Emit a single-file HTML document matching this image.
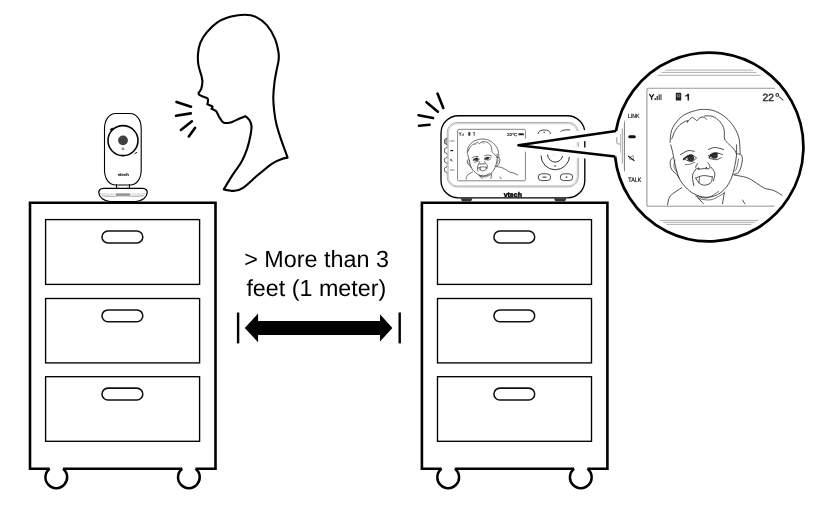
<!DOCTYPE html>
<html><head><meta charset="utf-8"><style>
html,body{margin:0;padding:0;background:#fff;width:816px;height:510px;overflow:hidden}
svg{display:block} text{text-rendering:geometricPrecision}
</style></head><body>
<svg width="816" height="510" viewBox="0 0 816 510" style="will-change:transform">
<path d="M49.62,468.80 H30.00 V202.80 H215.50 V468.80 H195.58 M182.22,468.80 H62.98" fill="none" stroke="#000" stroke-width="2.6" stroke-linejoin="miter" stroke-linecap="butt"/><path d="M195.58,468.80 A10.85,10.85 0 1 1 182.22,468.80 M62.98,468.80 A10.85,10.85 0 1 1 49.62,468.80" fill="none" stroke="#000" stroke-width="2.5" stroke-linecap="butt"/><rect x="45.60" y="219.60" width="154.00" height="64.80" fill="none" stroke="#000" stroke-width="1.35"/><rect x="102.00" y="231.00" width="40.8" height="11.9" rx="5.95" ry="5.95" fill="none" stroke="#111" stroke-width="1.55"/><rect x="45.60" y="298.50" width="154.00" height="64.40" fill="none" stroke="#000" stroke-width="1.35"/><rect x="102.00" y="309.90" width="40.8" height="11.9" rx="5.95" ry="5.95" fill="none" stroke="#111" stroke-width="1.55"/><rect x="45.60" y="376.70" width="154.00" height="64.60" fill="none" stroke="#000" stroke-width="1.35"/><rect x="102.00" y="388.10" width="40.8" height="11.9" rx="5.95" ry="5.95" fill="none" stroke="#111" stroke-width="1.55"/><path d="M441.52,468.80 H421.90 V202.80 H607.40 V468.80 H587.48 M574.12,468.80 H454.88" fill="none" stroke="#000" stroke-width="2.6" stroke-linejoin="miter" stroke-linecap="butt"/><path d="M587.48,468.80 A10.85,10.85 0 1 1 574.12,468.80 M454.88,468.80 A10.85,10.85 0 1 1 441.52,468.80" fill="none" stroke="#000" stroke-width="2.5" stroke-linecap="butt"/><rect x="437.50" y="219.60" width="154.00" height="64.80" fill="none" stroke="#000" stroke-width="1.35"/><rect x="493.90" y="231.00" width="40.8" height="11.9" rx="5.95" ry="5.95" fill="none" stroke="#111" stroke-width="1.55"/><rect x="437.50" y="298.50" width="154.00" height="64.40" fill="none" stroke="#000" stroke-width="1.35"/><rect x="493.90" y="309.90" width="40.8" height="11.9" rx="5.95" ry="5.95" fill="none" stroke="#111" stroke-width="1.55"/><rect x="437.50" y="376.70" width="154.00" height="64.60" fill="none" stroke="#000" stroke-width="1.35"/><rect x="493.90" y="388.10" width="40.8" height="11.9" rx="5.95" ry="5.95" fill="none" stroke="#111" stroke-width="1.55"/><text x="316.6" y="267.1" text-anchor="middle" font-family="Liberation Sans, sans-serif" font-size="23.35" fill="#000">&gt; More than 3</text><text x="316.3" y="295.7" text-anchor="middle" font-family="Liberation Sans, sans-serif" font-size="23.3" fill="#000">feet (1 meter)</text><polygon points="244.8,328 258.1,313.6 258.1,320.9 380,320.9 380,314.2 392.4,328 380,341.6 380,335 258.1,335 258.1,342.3" fill="#000"/><rect x="236.9" y="312.5" width="2.4" height="30.9" fill="#000"/><rect x="398.5" y="312.5" width="2.4" height="30.9" fill="#000"/><path d="M223.8,189.4 C223.8,189.4 228.2,181.8 231.2,177.1 C234.2,172.4 239.2,165.9 241.8,161.2 C244.5,156.5 245.6,153.2 247.1,148.8 C248.6,144.4 249.9,138.5 250.6,134.7 C251.3,130.9 251.7,128.3 251.5,125.9 C251.3,123.5 250.4,121.6 249.4,120.0 C248.4,118.4 245.3,116.2 245.3,116.2 C245.3,116.2 241.2,117.8 239.0,118.8 C236.8,119.8 234.1,121.2 232.2,121.9 C230.3,122.6 229.0,122.9 227.5,123.0 C226.0,123.1 224.5,123.1 223.2,122.3 C221.9,121.5 220.8,119.7 219.7,117.9 C218.6,116.1 217.4,113.0 216.5,111.7 C215.6,110.4 215.2,110.7 214.4,110.2 C213.6,109.7 211.5,108.8 211.5,108.8 C211.5,108.8 212.8,107.3 212.5,106.7 C212.2,106.1 210.4,105.6 209.6,105.2 C208.8,104.8 207.4,104.3 207.4,104.3 C207.4,104.3 208.3,100.3 207.9,99.1 C207.5,97.9 206.2,97.8 204.8,97.2 C203.4,96.6 200.8,95.9 199.7,95.2 C198.6,94.5 198.5,93.2 198.5,93.2 C198.5,93.2 200.5,90.8 201.2,88.9 C201.8,87.0 202.3,84.2 202.4,82.0 C202.5,79.8 201.9,78.0 201.5,76.0 C201.1,74.0 200.2,72.1 199.7,70.0 C199.1,67.9 198.5,66.2 198.2,63.5 C197.9,60.8 197.7,57.3 198.0,53.9 C198.3,50.5 198.9,46.4 200.3,42.9 C201.7,39.4 203.7,36.0 206.5,32.6 C209.3,29.2 213.3,25.0 217.4,22.3 C221.5,19.6 226.6,17.9 231.2,16.6 C235.8,15.4 240.8,14.8 244.9,14.8 C249.0,14.8 252.2,15.2 255.8,16.9 C259.4,18.6 263.6,21.5 266.8,25.1 C270.0,28.8 273.1,34.2 275.0,38.8 C276.9,43.4 277.9,48.8 278.5,52.5 C279.1,56.2 278.8,58.3 278.5,61.0 C278.2,63.7 277.5,65.4 276.9,68.8 C276.2,72.2 275.2,76.7 274.6,81.4 C274.0,86.1 273.4,92.2 273.3,97.1 C273.2,102.0 273.7,106.4 274.2,111.0 C274.7,115.6 275.4,120.0 276.5,124.5 C277.6,129.0 278.8,132.7 280.6,138.2 C282.5,143.7 287.6,157.6 287.6,157.6 C287.6,157.6 283.2,158.4 280.6,159.4 C278.0,160.4 275.6,161.2 271.8,163.8 C268.0,166.5 262.3,171.3 257.6,175.3 C252.9,179.3 247.3,185.0 243.5,187.6 C239.7,190.2 238.0,190.5 234.7,190.8 C231.4,191.1 223.8,189.4 223.8,189.4Z" fill="none" stroke="#000" stroke-width="2.1" stroke-linejoin="round"/><line x1="176.5" y1="101.9" x2="191" y2="106.7" stroke="#000" stroke-width="2.6" stroke-linecap="round"/><line x1="176" y1="115.8" x2="190.8" y2="113.4" stroke="#000" stroke-width="2.6" stroke-linecap="round"/><line x1="180.9" y1="129.9" x2="191.9" y2="121.3" stroke="#000" stroke-width="2.6" stroke-linecap="round"/><line x1="188.8" y1="136.5" x2="195" y2="127.9" stroke="#000" stroke-width="2.6" stroke-linecap="round"/><line x1="437.5" y1="93.6" x2="443.3" y2="108" stroke="#000" stroke-width="2.6" stroke-linecap="round"/><line x1="426.5" y1="102.2" x2="437.9" y2="111.7" stroke="#000" stroke-width="2.6" stroke-linecap="round"/><line x1="418.6" y1="115.2" x2="433" y2="118.1" stroke="#000" stroke-width="2.6" stroke-linecap="round"/><line x1="419" y1="125.7" x2="429.6" y2="124.7" stroke="#000" stroke-width="2.6" stroke-linecap="round"/><path d="M104.5,128.5 C104.5,119.5 109.5,113.5 115.8,113.5 H130 C136.3,113.5 141.2,119.5 141.2,128.5 V170 C141.2,179 136.5,185 130,185 H115.8 C109.3,185 104.5,179 104.5,170 Z" fill="#fff" stroke="#000" stroke-width="1.1"/><circle cx="123" cy="140.6" r="15" fill="none" stroke="#000" stroke-width="1.55"/><circle cx="123" cy="140.35" r="4.9" fill="#3a3a3a"/><circle cx="123" cy="140.35" r="3.4" fill="none" stroke="#888" stroke-width="0.5" stroke-dasharray="0.7 1"/><circle cx="123" cy="140.35" r="1.7" fill="none" stroke="#777" stroke-width="0.5" stroke-dasharray="0.7 1"/><circle cx="122.9" cy="148.8" r="1.5" fill="#999"/><path d="M110.3,130.2 L112.8,128.2" stroke="#000" stroke-width="1.6"/><path d="M134.5,153.8 L137,152.2" stroke="#000" stroke-width="0.9"/><text x="123.3" y="175.9" text-anchor="middle" font-family="Liberation Sans, sans-serif" font-weight="bold" font-size="4" textLength="11.2" lengthAdjust="spacingAndGlyphs" fill="#111" stroke="#111" stroke-width="0.12">vtech</text><path d="M116.4,184.3 V188.8 M129.4,184.3 V188.8" stroke="#000" stroke-width="1.0"/><path d="M118.2,184.6 V188.5 M127.6,184.6 V188.5" stroke="#aaa" stroke-width="0.6"/><path d="M103.5,188.4 H142.5 C146,188.4 147.4,190.5 147.2,192.8 C146.8,197.5 142,201.3 136,201.6 H110 C104,201.3 99.2,197.5 98.8,192.8 C98.6,190.5 100,188.4 103.5,188.4 Z" fill="#fff" stroke="#000" stroke-width="1.25"/><path d="M100,193.5 C110,194.6 136,194.6 146,193.5" fill="none" stroke="#bbb" stroke-width="0.7"/><rect x="116" y="193.3" width="14" height="3.1" fill="#999"/><path d="M102,195.6 C110,196.6 116,196.4 116,196.4 M130,196.4 C130,196.4 136,196.6 144,195.6" fill="none" stroke="#bbb" stroke-width="1.2"/><rect x="441" y="115.7" width="143.8" height="82.2" rx="17.5" ry="17.5" fill="#fff" stroke="#000" stroke-width="1.35"/><path d="M460.6,198.3 H472.5 L471,201.6 H462 Z" fill="#333"/><path d="M553.8,198.3 H566.5 L565,201.6 H555.5 Z" fill="#333"/><rect x="447.2" y="122.5" width="131.2" height="64.4" rx="10" ry="10" fill="none" stroke="#888" stroke-width="0.7"/><rect x="448.4" y="123.7" width="128.8" height="62" rx="9" ry="9" fill="none" stroke="#aaa" stroke-width="0.6"/><path d="M447.3,138.1 L444.6,139.5 V143.29999999999998 L447.3,144.7" fill="#aaa" stroke="#333" stroke-width="0.75"/><path d="M447.3,147.2 L444.6,148.6 V152.4 L447.3,153.8" fill="#fff" stroke="#333" stroke-width="0.75"/><path d="M447.3,157.3 L444.6,158.70000000000002 V161.9 L447.3,163.3" fill="#fff" stroke="#333" stroke-width="0.75"/><path d="M447.3,166.5 L444.6,167.9 V171.29999999999998 L447.3,172.7" fill="#fff" stroke="#333" stroke-width="0.75"/><text x="449.5" y="142.3" font-family="Liberation Sans, sans-serif" font-size="2.8" textLength="5.2" lengthAdjust="spacingAndGlyphs" fill="#444">LINK</text><path d="M450.3,150.6 H453.2" stroke="#111" stroke-width="1.2"/><path d="M450.2,159.2 L452.6,161.2 M450.6,160.8 L451.6,159.5" stroke="#222" stroke-width="0.8"/><text x="449.8" y="171.3" font-family="Liberation Sans, sans-serif" font-size="2.8" textLength="5.2" lengthAdjust="spacingAndGlyphs" fill="#444">TALK</text><rect x="457.6" y="129.3" width="67.8" height="51.5" rx="1.2" fill="#fff" stroke="#666" stroke-width="0.8"/><path d="M458.9,132.3 L460.2,134 M461.5,132.3 L460.2,134 V135.7 M462.2,134.6 V135.7 M463.3,133.4 V135.7" fill="none" stroke="#222" stroke-width="0.75"/><rect x="468.3" y="132.1" width="2" height="3.6" fill="#333"/><path d="M474.2,132.1 V135.8 M473.3,133 L474.2,132.1" fill="none" stroke="#222" stroke-width="0.8"/><text x="506.9" y="135.8" font-family="Liberation Sans, sans-serif" font-size="4" textLength="10.6" lengthAdjust="spacingAndGlyphs" fill="#222" stroke="#222" stroke-width="0.2">22°C</text><rect x="518.4" y="133.3" width="5.5" height="2" rx="0.9" fill="#222"/><path d="M541,155.5 A14.3,14.3 0 0 0 569.6,155.5" fill="none" stroke="#333" stroke-width="1"/><path d="M547.6,154.5 A7.6,7.6 0 0 0 562.8,154.5" fill="none" stroke="#333" stroke-width="1"/><path d="M553.6,165.4 L556.4,165.4 L555,167 Z" fill="#333"/><rect x="552.5" y="153.5" width="5" height="1.6" fill="#999"/><rect x="538.2" y="173.8" width="12.4" height="6.8" rx="3.4" fill="none" stroke="#333" stroke-width="0.9"/><rect x="560.3" y="173.8" width="12.4" height="6.8" rx="3.4" fill="none" stroke="#333" stroke-width="0.9"/><rect x="542.5" y="176.4" width="4" height="1.6" fill="#777"/><circle cx="566.5" cy="177.2" r="0.9" fill="#555"/><path d="M538,134 C538,128.6 550.5,128.6 550.5,134" fill="none" stroke="#333" stroke-width="0.9"/><path d="M560.5,131.5 C562,129.8 568,129.5 570.2,130" fill="none" stroke="#333" stroke-width="0.9"/><circle cx="544.2" cy="132.3" r="0.8" fill="#555"/><text x="512.8" y="196.6" text-anchor="middle" font-family="Liberation Sans, sans-serif" font-weight="bold" font-size="7" fill="#000" stroke="#000" stroke-width="0.45">vtech</text><g transform="translate(481.9,158.9) scale(0.45,0.42) translate(-702.5,-156.8)"><path d="M670.0,142.4 C670.2,140.6 670.3,135.0 671.2,131.8 C672.1,128.7 673.2,126.2 675.3,123.5 C677.3,120.8 680.2,117.5 683.5,115.3 C686.8,113.1 691.8,111.6 695.3,110.6 C698.8,109.6 701.4,109.3 704.7,109.4 C708.0,109.5 711.8,109.8 715.3,111.2 C718.8,112.6 722.8,114.9 725.9,117.6 C729.0,120.2 732.0,123.8 734.1,127.1 C736.2,130.4 737.8,133.9 738.8,137.6 C739.8,141.3 739.8,146.7 740.0,149.4 C740.2,152.2 740.0,153.3 740.0,154.1" fill="none" stroke="#333" stroke-width="1.60" stroke-linecap="round"/><path d="M671.8,138.8 C672.4,137.4 673.9,132.9 675.3,130.6 C676.7,128.2 678.0,126.4 680.0,124.7 C682.0,123.0 685.9,121.0 687.1,120.6 C688.3,120.2 687.4,121.9 687.4,122.2" fill="none" stroke="#333" stroke-width="1.60" stroke-linecap="round"/><path d="M687.4,121.8 C688.1,121.1 690.5,118.0 691.8,117.6 C693.1,117.2 694.4,118.9 695.3,119.4 C696.2,119.9 696.3,120.9 697.1,120.6 C697.9,120.3 698.8,118.2 700.0,117.6 C701.2,117.0 703.0,116.8 704.1,117.1 C705.2,117.4 706.1,119.0 706.5,119.4" fill="none" stroke="#333" stroke-width="1.60" stroke-linecap="round"/><path d="M704.7,115.9 C706.1,116.0 710.4,115.5 712.9,116.5 C715.4,117.5 718.1,119.6 720.0,121.8 C721.9,124.0 723.4,126.6 724.1,129.4 C724.9,132.2 723.8,136.5 724.5,138.8 C725.2,141.2 726.6,141.7 728.2,143.5 C729.8,145.3 732.7,147.6 734.1,149.4 C735.5,151.2 736.1,153.3 736.5,154.1" fill="none" stroke="#333" stroke-width="1.60" stroke-linecap="round"/><path d="M670.8,145.0 C671.1,146.3 672.0,149.2 672.7,152.6 C673.5,156.0 674.2,161.2 675.3,165.4 C676.4,169.7 677.4,174.5 679.1,178.1 C680.8,181.7 683.0,184.4 685.5,187.1 C688.0,189.8 691.0,192.4 694.4,194.1 C697.8,195.8 702.1,197.2 705.9,197.3 C709.7,197.4 714.0,196.4 717.4,194.7 C720.8,193.0 724.0,189.9 726.3,187.1 C728.6,184.3 730.0,181.5 731.4,178.1 C732.8,174.7 733.8,170.5 734.6,166.7 C735.5,162.9 736.2,158.8 736.5,155.2 C736.8,151.6 736.5,146.7 736.5,145.0" fill="none" stroke="#333" stroke-width="1.60" stroke-linecap="round"/><path d="M672.7,157.7 C672.3,158.3 670.4,159.7 670.2,161.6 C670.0,163.5 670.4,167.1 671.5,169.2 C672.6,171.3 675.3,172.8 676.6,174.3 C677.9,175.8 678.7,177.5 679.1,178.1" fill="none" stroke="#333" stroke-width="1.60" stroke-linecap="round"/><path d="M675.0,160.0 C674.8,161.2 673.7,165.0 674.0,167.0 C674.3,169.0 676.5,171.2 677.0,172.0" fill="none" stroke="#333" stroke-width="1.28" stroke-linecap="round"/><path d="M737.8,153.9 C738.4,154.1 740.9,153.9 741.6,155.2 C742.3,156.5 742.6,158.8 742.2,161.6 C741.8,164.4 740.4,169.7 739.0,171.8 C737.6,173.9 734.8,173.9 733.9,174.3" fill="none" stroke="#333" stroke-width="1.60" stroke-linecap="round"/><path d="M738.5,159.0 C738.2,160.3 737.6,165.0 737.0,167.0 C736.4,169.0 735.3,170.3 735.0,171.0" fill="none" stroke="#333" stroke-width="1.28" stroke-linecap="round"/><path d="M680.4,154.6 C681.7,153.9 685.7,151.2 688.0,150.7 C690.3,150.2 693.3,151.3 694.4,151.4" fill="none" stroke="#333" stroke-width="1.60" stroke-linecap="round"/><path d="M708.4,149.5 C709.5,149.2 712.2,147.5 714.8,147.5 C717.3,147.5 722.2,149.2 723.7,149.5" fill="none" stroke="#333" stroke-width="1.60" stroke-linecap="round"/><path d="M683.6,158.4 C684.8,157.8 688.5,154.7 690.6,154.6 C692.7,154.5 695.3,157.2 696.3,157.7" fill="none" stroke="#333" stroke-width="1.60" stroke-linecap="round"/><path d="M685.5,159.7 C686.6,160.0 690.1,161.9 691.9,161.6 C693.7,161.3 695.6,158.6 696.3,158.0" fill="none" stroke="#333" stroke-width="1.60" stroke-linecap="round"/><path d="M685.3,164.6 C686.1,164.5 688.5,164.6 690.0,164.2 C691.5,163.8 693.8,162.7 694.6,162.4" fill="none" stroke="#333" stroke-width="1.28" stroke-linecap="round"/><path d="M708.4,155.8 C709.5,155.3 712.4,152.8 714.8,152.6 C717.1,152.4 721.2,154.3 722.5,154.6" fill="none" stroke="#333" stroke-width="1.60" stroke-linecap="round"/><path d="M709.7,158.4 C710.8,158.6 714.2,159.8 716.1,159.7 C718.0,159.6 720.4,158.0 721.2,157.7" fill="none" stroke="#333" stroke-width="1.60" stroke-linecap="round"/><path d="M697.6,163.5 C697.3,164.1 695.6,166.4 695.7,167.3 C695.8,168.2 696.9,169.0 698.2,169.2 C699.5,169.4 701.5,168.7 703.3,168.6 C705.1,168.5 708.0,169.1 709.1,168.6 C710.2,168.1 709.9,166.4 709.7,165.4 C709.5,164.4 708.1,163.2 707.8,162.8" fill="none" stroke="#333" stroke-width="1.60" stroke-linecap="round"/><path d="M695.7,169.2 C695.2,170.3 692.8,172.8 692.5,175.6 C692.2,178.4 693.6,184.1 693.8,185.8" fill="none" stroke="#333" stroke-width="1.60" stroke-linecap="round"/><path d="M711.0,167.3 C711.6,168.2 714.4,170.8 714.8,173.0 C715.2,175.2 713.7,179.4 713.5,180.7" fill="none" stroke="#333" stroke-width="1.60" stroke-linecap="round"/><path d="M695.7,178.1 C697.0,177.7 700.5,175.8 703.3,175.6 C706.1,175.4 710.8,176.7 712.3,176.9" fill="none" stroke="#333" stroke-width="1.60" stroke-linecap="round"/><path d="M695.7,178.1 C696.3,178.9 698.0,182.0 699.5,183.2 C701.0,184.4 702.7,185.3 704.6,185.2 C706.5,185.1 709.7,184.0 711.0,182.6 C712.3,181.2 712.1,177.8 712.3,176.9" fill="none" stroke="#333" stroke-width="1.60" stroke-linecap="round"/><path d="M699.5,177.5 C699.4,178.4 699.0,182.2 698.9,183.2" fill="none" stroke="#333" stroke-width="1.44" stroke-linecap="round"/><path d="M695.7,196.0 C697.6,196.3 703.4,198.7 707.2,197.9 C711.0,197.2 716.7,192.6 718.6,191.5" fill="none" stroke="#333" stroke-width="1.28" stroke-linecap="round"/><path d="M698.2,198.5 C700.3,198.7 706.8,200.7 711.0,199.8 C715.2,199.0 721.6,194.5 723.7,193.4" fill="none" stroke="#333" stroke-width="1.28" stroke-linecap="round"/><path d="M724.4,192.2 C724.1,194.1 722.8,201.7 722.5,203.6" fill="none" stroke="#333" stroke-width="1.60" stroke-linecap="round"/><path d="M667.6,204.9 C668.0,203.4 667.9,198.9 670.2,196.0 C672.6,193.1 679.8,189.1 681.7,187.7" fill="none" stroke="#333" stroke-width="1.60" stroke-linecap="round"/><path d="M697.0,196.6 C698.0,197.8 702.2,202.4 703.3,203.6" fill="none" stroke="#333" stroke-width="1.60" stroke-linecap="round"/><path d="M733.9,175.0 C736.0,175.4 743.1,176.3 746.8,177.6 C750.5,178.9 753.3,181.1 756.2,182.9 C759.1,184.7 761.5,186.9 764.4,188.2 C767.3,189.5 770.9,189.3 773.8,190.5 C776.7,191.7 780.6,194.4 782.0,195.2" fill="none" stroke="#333" stroke-width="1.60" stroke-linecap="round"/><path d="M742.6,200.0 C743.0,200.7 744.6,203.3 745.0,204.0" fill="none" stroke="#333" stroke-width="1.60" stroke-linecap="round"/><ellipse cx="690.8" cy="158.2" rx="3.4" ry="3" fill="#333"/><ellipse cx="714.4" cy="155.8" rx="3.4" ry="2.9" fill="#333"/><path d="M683.6,159.6 Q688,154.8 692.5,155.6" fill="none" stroke="#333" stroke-width="2.88" stroke-linecap="round"/><path d="M709.2,157.4 Q712.5,152.8 717.5,153.6" fill="none" stroke="#333" stroke-width="2.88" stroke-linecap="round"/><circle cx="698.6" cy="168.4" r="0.9" fill="#333"/><circle cx="706.3" cy="167.8" r="0.9" fill="#333"/></g><path d="M618.95,130.63000000000002 L518.4,145.3 L618.08,156.84" fill="none" stroke="#fff" stroke-width="11" stroke-linejoin="round"/><circle cx="709" cy="147" r="94.4" fill="#fff"/><path d="M615.95,131.08 A94.4,94.4 0 1 1 615.08,156.49" fill="none" stroke="#000" stroke-width="2.7"/><path d="M615.95,131.08 L518.4,145.3 L615.08,156.49" fill="none" stroke="#000" stroke-width="2.5" stroke-linejoin="round"/><defs><clipPath id="mc"><circle cx="709" cy="147" r="88.4"/></clipPath></defs><g clip-path="url(#mc)"><line x1="640" y1="70.1" x2="780" y2="70.1" stroke="#999" stroke-width="0.8"/><line x1="640" y1="72.4" x2="780" y2="72.4" stroke="#999" stroke-width="0.8"/><line x1="640" y1="75.3" x2="780" y2="75.3" stroke="#999" stroke-width="0.8"/><line x1="640" y1="220.4" x2="780" y2="220.4" stroke="#999" stroke-width="0.8"/><line x1="640" y1="222.3" x2="780" y2="222.3" stroke="#999" stroke-width="0.8"/><line x1="640" y1="224.4" x2="780" y2="224.4" stroke="#999" stroke-width="0.8"/><path d="M646.9,206.2 V89.8 Q646.9,88.3 648.4,88.3 H790" fill="none" stroke="#999" stroke-width="1.1"/><line x1="646.9" y1="206.2" x2="790" y2="206.2" stroke="#888" stroke-width="0.9"/><line x1="624.4" y1="100" x2="624.4" y2="171.4" stroke="#555" stroke-width="0.8"/><text x="628.1" y="117.5" font-family="Liberation Sans, sans-serif" font-size="5.9" textLength="11.4" lengthAdjust="spacingAndGlyphs" fill="#111" stroke="#111" stroke-width="0.2">LINK</text><line x1="629.8" y1="136.8" x2="634.3" y2="136.8" stroke="#111" stroke-width="3" stroke-linecap="round"/><path d="M629.3,156.9 H631.1 L633.3,155.3 V159.9 L631.1,159.2 H629.3 Z" fill="none" stroke="#777" stroke-width="0.7"/><path d="M628.4,156.1 L634.1,160.6" stroke="#111" stroke-width="1.1" stroke-linecap="round"/><text x="628.3" y="182.2" font-family="Liberation Sans, sans-serif" font-size="6.4" textLength="12.9" lengthAdjust="spacingAndGlyphs" fill="#111" stroke="#111" stroke-width="0.2">TALK</text><path d="M649.4,94.2 L651.6,97.3 M653.8,94.2 L651.6,97.3 V100.1" fill="none" stroke="#222" stroke-width="1.35"/><rect x="654.6" y="98" width="1.2" height="2.1" fill="#222"/><rect x="656.6" y="96" width="1.2" height="4.1" fill="#222"/><rect x="658.6" y="94.3" width="1.2" height="5.8" fill="#444"/><rect x="660.4" y="94.3" width="1.2" height="5.8" fill="#555"/><rect x="675.8" y="92.8" width="5.4" height="7.8" rx="0.6" fill="#222"/><circle cx="678.5" cy="95.8" r="1.3" fill="none" stroke="#ddd" stroke-width="0.6"/><path d="M687.5,93.8 H689.1 V100.6 H687.5 V96.2 L685.1,96.6 V95.6 Q686.8,95.2 687.5,93.8 Z" fill="#222"/><text x="762.6" y="100.8" font-family="Liberation Sans, sans-serif" font-size="10.4" textLength="11.2" lengthAdjust="spacingAndGlyphs" fill="#333" stroke="#333" stroke-width="0.55">22</text><circle cx="777.3" cy="94.9" r="1.4" fill="none" stroke="#333" stroke-width="1.1"/><path d="M779.2,96.6 L783.4,100.4" stroke="#444" stroke-width="1.1"/><path d="M670.0,142.4 C670.2,140.6 670.3,135.0 671.2,131.8 C672.1,128.7 673.2,126.2 675.3,123.5 C677.3,120.8 680.2,117.5 683.5,115.3 C686.8,113.1 691.8,111.6 695.3,110.6 C698.8,109.6 701.4,109.3 704.7,109.4 C708.0,109.5 711.8,109.8 715.3,111.2 C718.8,112.6 722.8,114.9 725.9,117.6 C729.0,120.2 732.0,123.8 734.1,127.1 C736.2,130.4 737.8,133.9 738.8,137.6 C739.8,141.3 739.8,146.7 740.0,149.4 C740.2,152.2 740.0,153.3 740.0,154.1" fill="none" stroke="#222" stroke-width="0.80" stroke-linecap="round"/><path d="M671.8,138.8 C672.4,137.4 673.9,132.9 675.3,130.6 C676.7,128.2 678.0,126.4 680.0,124.7 C682.0,123.0 685.9,121.0 687.1,120.6 C688.3,120.2 687.4,121.9 687.4,122.2" fill="none" stroke="#222" stroke-width="0.80" stroke-linecap="round"/><path d="M687.4,121.8 C688.1,121.1 690.5,118.0 691.8,117.6 C693.1,117.2 694.4,118.9 695.3,119.4 C696.2,119.9 696.3,120.9 697.1,120.6 C697.9,120.3 698.8,118.2 700.0,117.6 C701.2,117.0 703.0,116.8 704.1,117.1 C705.2,117.4 706.1,119.0 706.5,119.4" fill="none" stroke="#222" stroke-width="0.80" stroke-linecap="round"/><path d="M704.7,115.9 C706.1,116.0 710.4,115.5 712.9,116.5 C715.4,117.5 718.1,119.6 720.0,121.8 C721.9,124.0 723.4,126.6 724.1,129.4 C724.9,132.2 723.8,136.5 724.5,138.8 C725.2,141.2 726.6,141.7 728.2,143.5 C729.8,145.3 732.7,147.6 734.1,149.4 C735.5,151.2 736.1,153.3 736.5,154.1" fill="none" stroke="#222" stroke-width="0.80" stroke-linecap="round"/><path d="M670.8,145.0 C671.1,146.3 672.0,149.2 672.7,152.6 C673.5,156.0 674.2,161.2 675.3,165.4 C676.4,169.7 677.4,174.5 679.1,178.1 C680.8,181.7 683.0,184.4 685.5,187.1 C688.0,189.8 691.0,192.4 694.4,194.1 C697.8,195.8 702.1,197.2 705.9,197.3 C709.7,197.4 714.0,196.4 717.4,194.7 C720.8,193.0 724.0,189.9 726.3,187.1 C728.6,184.3 730.0,181.5 731.4,178.1 C732.8,174.7 733.8,170.5 734.6,166.7 C735.5,162.9 736.2,158.8 736.5,155.2 C736.8,151.6 736.5,146.7 736.5,145.0" fill="none" stroke="#222" stroke-width="0.80" stroke-linecap="round"/><path d="M672.7,157.7 C672.3,158.3 670.4,159.7 670.2,161.6 C670.0,163.5 670.4,167.1 671.5,169.2 C672.6,171.3 675.3,172.8 676.6,174.3 C677.9,175.8 678.7,177.5 679.1,178.1" fill="none" stroke="#222" stroke-width="0.80" stroke-linecap="round"/><path d="M675.0,160.0 C674.8,161.2 673.7,165.0 674.0,167.0 C674.3,169.0 676.5,171.2 677.0,172.0" fill="none" stroke="#222" stroke-width="0.64" stroke-linecap="round"/><path d="M737.8,153.9 C738.4,154.1 740.9,153.9 741.6,155.2 C742.3,156.5 742.6,158.8 742.2,161.6 C741.8,164.4 740.4,169.7 739.0,171.8 C737.6,173.9 734.8,173.9 733.9,174.3" fill="none" stroke="#222" stroke-width="0.80" stroke-linecap="round"/><path d="M738.5,159.0 C738.2,160.3 737.6,165.0 737.0,167.0 C736.4,169.0 735.3,170.3 735.0,171.0" fill="none" stroke="#222" stroke-width="0.64" stroke-linecap="round"/><path d="M680.4,154.6 C681.7,153.9 685.7,151.2 688.0,150.7 C690.3,150.2 693.3,151.3 694.4,151.4" fill="none" stroke="#222" stroke-width="0.80" stroke-linecap="round"/><path d="M708.4,149.5 C709.5,149.2 712.2,147.5 714.8,147.5 C717.3,147.5 722.2,149.2 723.7,149.5" fill="none" stroke="#222" stroke-width="0.80" stroke-linecap="round"/><path d="M683.6,158.4 C684.8,157.8 688.5,154.7 690.6,154.6 C692.7,154.5 695.3,157.2 696.3,157.7" fill="none" stroke="#222" stroke-width="0.80" stroke-linecap="round"/><path d="M685.5,159.7 C686.6,160.0 690.1,161.9 691.9,161.6 C693.7,161.3 695.6,158.6 696.3,158.0" fill="none" stroke="#222" stroke-width="0.80" stroke-linecap="round"/><path d="M685.3,164.6 C686.1,164.5 688.5,164.6 690.0,164.2 C691.5,163.8 693.8,162.7 694.6,162.4" fill="none" stroke="#222" stroke-width="0.64" stroke-linecap="round"/><path d="M708.4,155.8 C709.5,155.3 712.4,152.8 714.8,152.6 C717.1,152.4 721.2,154.3 722.5,154.6" fill="none" stroke="#222" stroke-width="0.80" stroke-linecap="round"/><path d="M709.7,158.4 C710.8,158.6 714.2,159.8 716.1,159.7 C718.0,159.6 720.4,158.0 721.2,157.7" fill="none" stroke="#222" stroke-width="0.80" stroke-linecap="round"/><path d="M697.6,163.5 C697.3,164.1 695.6,166.4 695.7,167.3 C695.8,168.2 696.9,169.0 698.2,169.2 C699.5,169.4 701.5,168.7 703.3,168.6 C705.1,168.5 708.0,169.1 709.1,168.6 C710.2,168.1 709.9,166.4 709.7,165.4 C709.5,164.4 708.1,163.2 707.8,162.8" fill="none" stroke="#222" stroke-width="0.80" stroke-linecap="round"/><path d="M695.7,169.2 C695.2,170.3 692.8,172.8 692.5,175.6 C692.2,178.4 693.6,184.1 693.8,185.8" fill="none" stroke="#222" stroke-width="0.80" stroke-linecap="round"/><path d="M711.0,167.3 C711.6,168.2 714.4,170.8 714.8,173.0 C715.2,175.2 713.7,179.4 713.5,180.7" fill="none" stroke="#222" stroke-width="0.80" stroke-linecap="round"/><path d="M695.7,178.1 C697.0,177.7 700.5,175.8 703.3,175.6 C706.1,175.4 710.8,176.7 712.3,176.9" fill="none" stroke="#222" stroke-width="0.80" stroke-linecap="round"/><path d="M695.7,178.1 C696.3,178.9 698.0,182.0 699.5,183.2 C701.0,184.4 702.7,185.3 704.6,185.2 C706.5,185.1 709.7,184.0 711.0,182.6 C712.3,181.2 712.1,177.8 712.3,176.9" fill="none" stroke="#222" stroke-width="0.80" stroke-linecap="round"/><path d="M699.5,177.5 C699.4,178.4 699.0,182.2 698.9,183.2" fill="none" stroke="#222" stroke-width="0.72" stroke-linecap="round"/><path d="M695.7,196.0 C697.6,196.3 703.4,198.7 707.2,197.9 C711.0,197.2 716.7,192.6 718.6,191.5" fill="none" stroke="#222" stroke-width="0.64" stroke-linecap="round"/><path d="M698.2,198.5 C700.3,198.7 706.8,200.7 711.0,199.8 C715.2,199.0 721.6,194.5 723.7,193.4" fill="none" stroke="#222" stroke-width="0.64" stroke-linecap="round"/><path d="M724.4,192.2 C724.1,194.1 722.8,201.7 722.5,203.6" fill="none" stroke="#222" stroke-width="0.80" stroke-linecap="round"/><path d="M667.6,204.9 C668.0,203.4 667.9,198.9 670.2,196.0 C672.6,193.1 679.8,189.1 681.7,187.7" fill="none" stroke="#222" stroke-width="0.80" stroke-linecap="round"/><path d="M697.0,196.6 C698.0,197.8 702.2,202.4 703.3,203.6" fill="none" stroke="#222" stroke-width="0.80" stroke-linecap="round"/><path d="M733.9,175.0 C736.0,175.4 743.1,176.3 746.8,177.6 C750.5,178.9 753.3,181.1 756.2,182.9 C759.1,184.7 761.5,186.9 764.4,188.2 C767.3,189.5 770.9,189.3 773.8,190.5 C776.7,191.7 780.6,194.4 782.0,195.2" fill="none" stroke="#222" stroke-width="0.80" stroke-linecap="round"/><path d="M742.6,200.0 C743.0,200.7 744.6,203.3 745.0,204.0" fill="none" stroke="#222" stroke-width="0.80" stroke-linecap="round"/><ellipse cx="690.8" cy="158.2" rx="3.4" ry="3" fill="#333"/><ellipse cx="714.4" cy="155.8" rx="3.4" ry="2.9" fill="#333"/><path d="M683.6,159.6 Q688,154.8 692.5,155.6" fill="none" stroke="#222" stroke-width="1.44" stroke-linecap="round"/><path d="M709.2,157.4 Q712.5,152.8 717.5,153.6" fill="none" stroke="#222" stroke-width="1.44" stroke-linecap="round"/><circle cx="698.6" cy="168.4" r="0.9" fill="#333"/><circle cx="706.3" cy="167.8" r="0.9" fill="#333"/></g><path d="M622.3,128.5 V163.5" stroke="#777" stroke-width="0.7"/><path d="M620.5,134 V152.7" fill="none" stroke="#999" stroke-width="0.6"/><path d="M616.8,137.2 V142.6 Q616.8,144 618.4,144 H620.5" fill="none" stroke="#666" stroke-width="0.7"/>
</svg>
</body></html>
